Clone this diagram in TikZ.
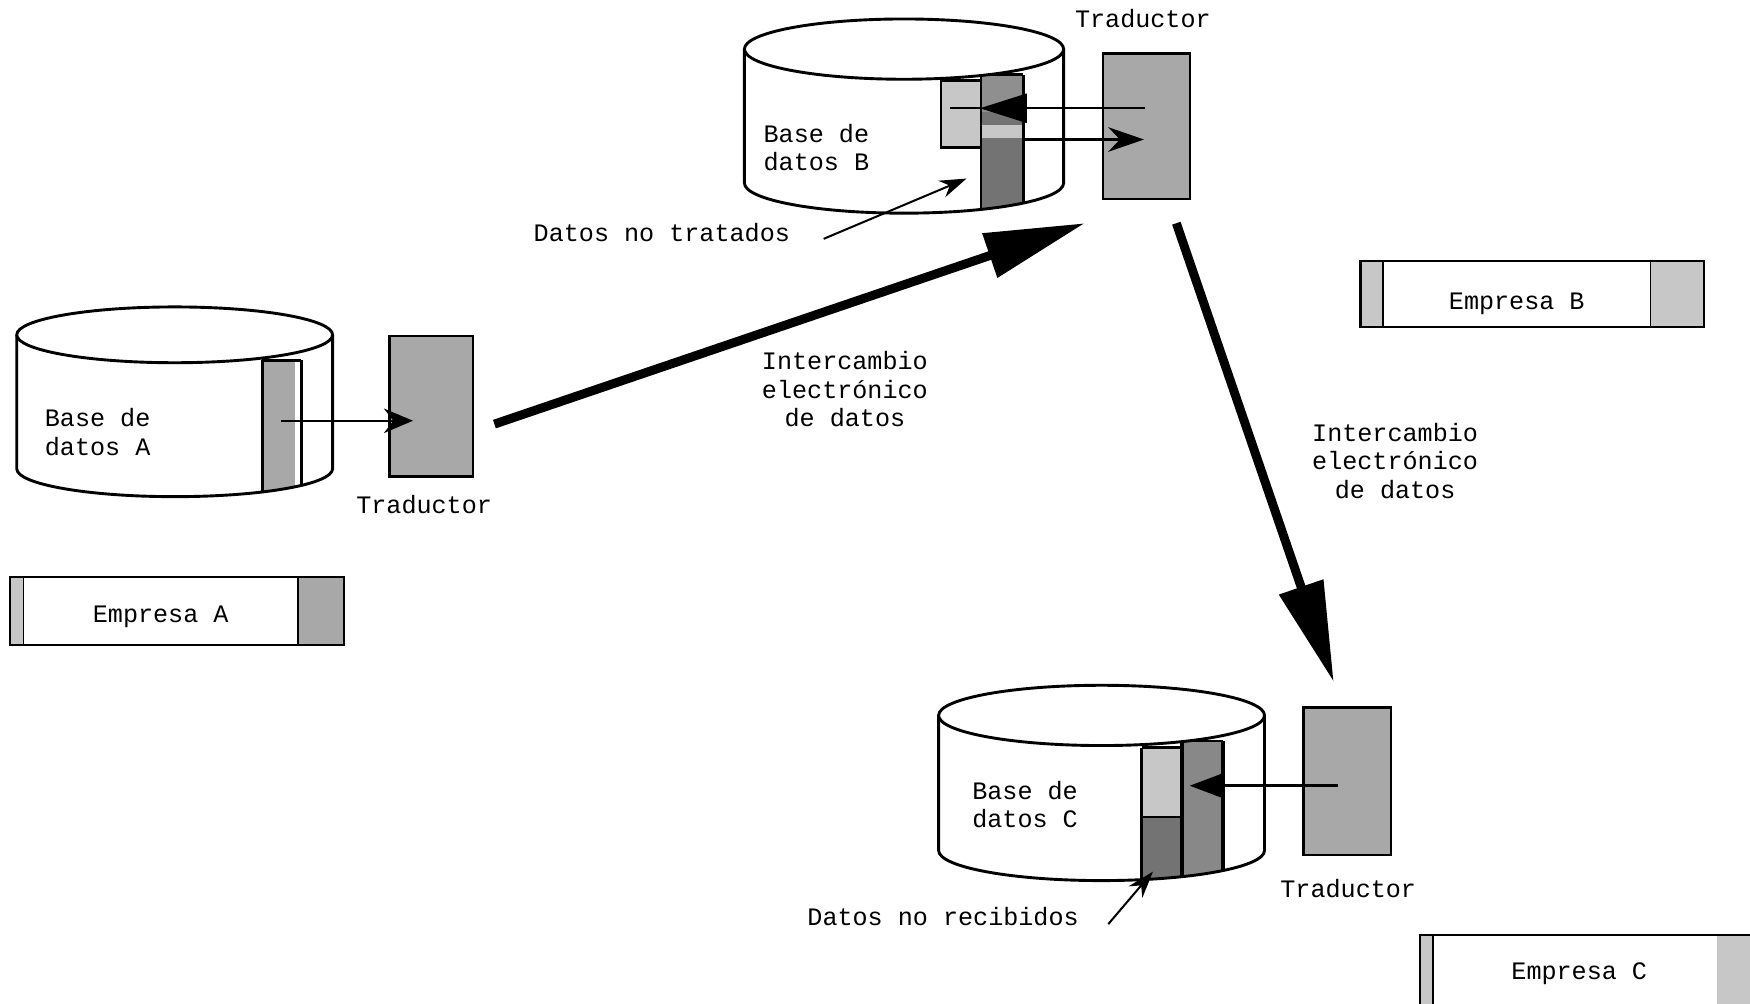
\documentclass[tikz,border=0pt]{standalone}
\usepackage{fontspec}
\setmonofont{Liberation Mono}
\usetikzlibrary{arrows.meta}
\definecolor{shL}{gray}{0.78}
\definecolor{shM}{gray}{0.66}
\definecolor{shD}{gray}{0.45}
\begin{document}
\begin{tikzpicture}[x=1pt,y=-1pt,
  lbl/.style={font=\ttfamily\fontsize{22.5}{25.5}\selectfont, inner sep=0pt, align=center},
  lbll/.style={lbl, align=left, anchor=west},
  trad/.style={draw, line width=2pt, fill=shM, inner sep=0pt},
  outline/.style={line width=2.6pt, line join=round},
  bigarrow/.style={line width=8pt, -{Triangle[length=90pt,width=40pt]}},
  smallarrow/.style={line width=2.2pt, -{Stealth[length=26pt,width=22pt]}},
  ptrarrow/.style={line width=1.8pt, -{Stealth[length=24pt,width=16pt]}},
  empresa/.style={draw, line width=2pt, inner sep=0pt},
  cell/.style={line width=2.4pt}]
\useasboundingbox (0,0) rectangle (1568,899);
\fill[white] (0,0) rectangle (1568,899);

% ---------------- Cylinder A ----------------
\coordinate (cylA) at (156.5,360);
\fill[white] (15,300) -- (15,420) arc[start angle=180,end angle=0,x radius=141.5,y radius=25] -- (298,300) -- cycle;
\begin{scope}
  \clip (15,300) -- (15,420) arc[start angle=180,end angle=0,x radius=141.5,y radius=25] -- (298,300) -- cycle;
  \fill[shM] (235,323) rectangle (264,480);
  \draw[cell] (235,323) -- (235,480) (270,323) -- (270,480) (235,323) -- (270,323);
\end{scope}
\draw[outline] (15,300) -- (15,420) arc[start angle=180,end angle=0,x radius=141.5,y radius=25] -- (298,300);
\draw[outline, fill=white] (156.5,300) ellipse[x radius=141.5, y radius=25];
\node[lbll] (txtA) at (40,387) {Base de\\datos A};

\node[trad, minimum width=75pt, minimum height=126pt] (tradA) at (386.5,364) {};
\node[lbl] (labTA) at (380,452) {Traductor};
\coordinate (stripA) at (252,377);
\coordinate (inA) at (370,377);
\draw[smallarrow] (stripA) -- (inA);

% Empresa A
\node[empresa, minimum width=299pt, minimum height=61pt] (empA) at (158.5,547.5) {};
\fill[shL] ([xshift=1pt,yshift=-1pt]empA.north west) rectangle ([xshift=13pt,yshift=1pt]empA.south west);
\fill[shM] ([xshift=-42pt,yshift=-1pt]empA.north east) rectangle ([xshift=-1pt,yshift=1pt]empA.south east);
\draw[line width=1.2pt] ([xshift=13pt]empA.north west) -- ([xshift=13pt]empA.south west)
  ([xshift=-42pt]empA.north east) -- ([xshift=-42pt]empA.south east);
\node[empresa, minimum width=299pt, minimum height=61pt, draw, fill=none] at (empA.center) {};
\node[lbl] (txtEA) at (144,553) {Empresa A};

% ---------------- Cylinder B ----------------
\coordinate (cylB) at (810,110);
\fill[white] (667,44) -- (667,164) arc[start angle=180,end angle=0,x radius=143,y radius=27] -- (953,44) -- cycle;
\begin{scope}
  \clip (667,44) -- (667,164) arc[start angle=180,end angle=0,x radius=143,y radius=27] -- (953,44) -- cycle;
  \fill[shL] (843,72) rectangle (879,132);
  \draw[cell] (843,72) rectangle (879,132);
  \fill[shD!80] (879,67) rectangle (917,100);
  \fill[shD] (879,100) rectangle (917,112);
  \fill[shL] (879,112) rectangle (917,124);
  \fill[shD] (879,124) rectangle (917,230);
  \draw[cell] (879,67) -- (879,230) (879,67) -- (917,67);
  \draw[line width=3.4pt] (917,67) -- (917,230);
\end{scope}
\draw[outline] (667,44) -- (667,164) arc[start angle=180,end angle=0,x radius=143,y radius=27] -- (953,44);
\draw[outline, fill=white] (810,44) ellipse[x radius=143, y radius=27];
\node[lbll] (txtB) at (684,132) {Base de\\datos B};

\node[trad, minimum width=78pt, minimum height=130pt] (tradB) at (1027,113) {};
\node[lbl] (labTB) at (1024,17) {Traductor};
\coordinate (outB) at (1026,97);
\coordinate (headB) at (878,97);
\coordinate (endB) at (851,97);
\draw[line width=2.2pt, -{Triangle[length=42pt,width=26pt]}] (outB) -- (headB);
\draw[line width=2.2pt] (headB) -- (endB);
\coordinate (colB) at (917,125);
\coordinate (inB) at (1025,125);
\draw[line width=2.2pt, -{Stealth[length=32pt,width=22pt]}] (colB) -- (inB);

\node[lbl] (txtNT) at (593,208) {Datos no tratados};
\coordinate (ntS) at (738,214);
\coordinate (ntE) at (866,160);
\draw[ptrarrow] (ntS) -- (ntE);

% Empresa B
\node[empresa, minimum width=308pt, minimum height=59pt] (empB) at (1373,263.5) {};
\fill[shL] ([xshift=1pt,yshift=-1pt]empB.north west) rectangle ([xshift=21pt,yshift=1pt]empB.south west);
\fill[shL] ([xshift=-49pt,yshift=-1pt]empB.north east) rectangle ([xshift=-1pt,yshift=1pt]empB.south east);
\draw[line width=1.2pt] ([xshift=21pt]empB.north west) -- ([xshift=21pt]empB.south west)
  ([xshift=-49pt]empB.north east) -- ([xshift=-49pt]empB.south east);
\node[empresa, minimum width=308pt, minimum height=59pt, fill=none] at (empB.center) {};
\node[lbl] (txtEB) at (1359,272) {Empresa B};

% ---------------- Big arrows ----------------
\coordinate (bigAs) at (443,380);
\coordinate (bigAe) at (972,200);
\draw[bigarrow] (bigAs) -- (bigAe);
\node[lbl] (ied1) at (757,349) {Intercambio\\electrónico\\de datos};

\coordinate (bigBs) at (1054,200);
\coordinate (bigBe) at (1195,611);
\draw[bigarrow] (bigBs) -- (bigBe);
\node[lbl] (ied2) at (1250,413) {Intercambio\\electrónico\\de datos};

% ---------------- Cylinder C ----------------
\coordinate (cylC) at (987,700);
\fill[white] (841,641) -- (841,762) arc[start angle=180,end angle=0,x radius=146,y radius=27] -- (1133,641) -- cycle;
\begin{scope}
  \clip (841,641) -- (841,762) arc[start angle=180,end angle=0,x radius=146,y radius=27] -- (1133,641) -- cycle;
  \fill[shL] (1023,670) rectangle (1057,732);
  \fill[shD] (1023,732) rectangle (1057,820);
  \draw[cell] (1023,670) -- (1023,820) (1023,670) -- (1057,670) (1023,732) -- (1057,732);
  \draw[line width=3.4pt] (1059,664) -- (1059,820);
  \fill[shD!85] (1061,664) rectangle (1096,820);
  \draw[cell] (1059,664) -- (1096,664);
  \draw[line width=3.4pt] (1096,664) -- (1096,820);
\end{scope}
\draw[outline] (841,641) -- (841,762) arc[start angle=180,end angle=0,x radius=146,y radius=27] -- (1133,641);
\draw[outline, fill=white] (987,641) ellipse[x radius=146, y radius=27];
\node[lbll] (txtC) at (871,721) {Base de\\datos C};

\node[trad, minimum width=78pt, minimum height=132pt] (tradC) at (1207,700) {};
\node[lbl] (labTC) at (1208,796) {Traductor};
\coordinate (outC) at (1199,704);
\coordinate (inC) at (1066,704);
\draw[line width=2.2pt, -{Triangle[length=30pt,width=22pt]}] (outC) -- (inC);

\node[lbl] (txtNR) at (845,821) {Datos no recibidos};
\coordinate (nrS) at (993,828);
\coordinate (nrE) at (1033,781);
\draw[ptrarrow] (nrS) -- (nrE);

% Empresa C (runs off the page)
\begin{scope}
\clip (0,0) rectangle (1568,899);
\node[empresa, minimum width=310pt, minimum height=84pt] (empC) at (1427,880) {};
\fill[shL] ([xshift=1pt,yshift=-1pt]empC.north west) rectangle ([xshift=13pt,yshift=1pt]empC.south west);
\fill[shL] ([xshift=-45pt,yshift=-1pt]empC.north east) rectangle ([xshift=-1pt,yshift=1pt]empC.south east);
\draw[line width=1.2pt] ([xshift=13pt]empC.north west) -- ([xshift=13pt]empC.south west);
\node[empresa, minimum width=310pt, minimum height=84pt, fill=none] at (empC.center) {};
\node[lbl] (txtEC) at (1415,872) {Empresa C};
\end{scope}
\end{tikzpicture}
\end{document}
